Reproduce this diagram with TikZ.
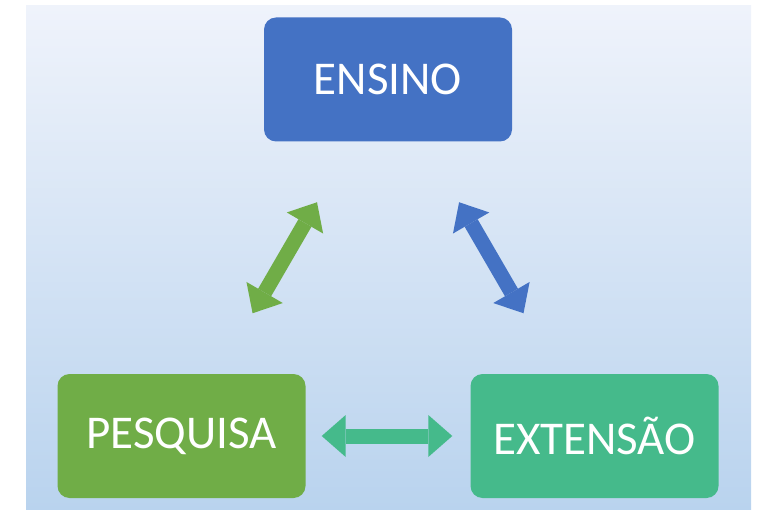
\documentclass[tikz,border=0pt]{standalone}
\usepackage{fontspec}
\setmainfont{Carlito}
\usetikzlibrary{arrows.meta}
\definecolor{bgtop}{HTML}{EFF3FB}
\definecolor{bgbot}{HTML}{B9D3EE}
\definecolor{cblue}{HTML}{4472C4}
\definecolor{cgreen}{HTML}{70AD47}
\definecolor{cteal}{HTML}{45BA8B}
\begin{document}
\begin{tikzpicture}[x=1pt,y=-1pt,
  box/.style={rounded corners=12pt, minimum width=248pt, minimum height=124pt,
    inner sep=0pt, text=white, font=\fontsize{47}{56}\selectfont},
  dbl/.style={line width=15pt,
    {Triangle[length=24pt,width=42pt,line width=0pt]}-{Triangle[length=24pt,width=42pt,line width=0pt]}}]
\useasboundingbox (0,0) rectangle (760,510);
\shade[top color=bgtop, bottom color=bgbot] (26,6) rectangle (751,510);
\node[box, fill=cblue]  (ens) at (388,79.5) {ENSINO};
\node[box, fill=cgreen] (pes) at (181.5,436) {PESQUISA};
\node[box, fill=cteal]  (ext) at (594.5,436) {EXTENSÃO};
\draw[dbl, cgreen, shorten <=70pt, shorten >=70pt] (pes) -- (ens);
\draw[dbl, cblue, shorten <=70pt, shorten >=70pt] (ens) -- (ext);
\draw[dbl, cteal, shorten <=16pt, shorten >=18pt] (pes) -- (ext);
\end{tikzpicture}
\end{document}
